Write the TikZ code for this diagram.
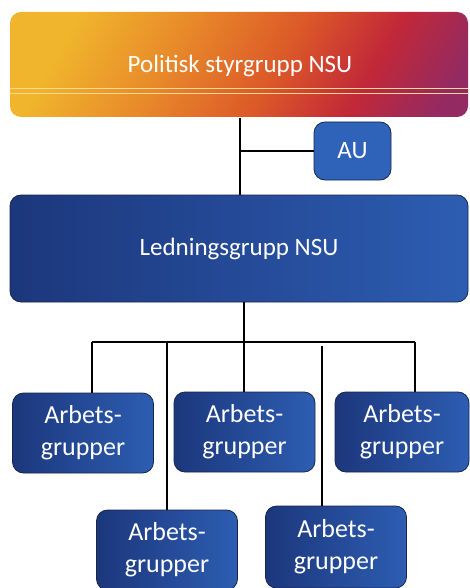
\documentclass[tikz,border=0pt]{standalone}
\usepackage{fontspec}
\setmainfont{Carlito}
\usepackage{tikz}
\usetikzlibrary{calc}
\definecolor{warmA}{HTML}{F0B52C}
\definecolor{warmB}{HTML}{E88A2A}
\definecolor{warmC}{HTML}{DC5A28}
\definecolor{warmD}{HTML}{C22838}
\definecolor{warmE}{HTML}{932A62}
\definecolor{blueA}{HTML}{1C377C}
\definecolor{blueB}{HTML}{2D5DB2}
\definecolor{auBlue}{HTML}{2F63BA}
\definecolor{edgeDark}{HTML}{1A2648}
\pgfdeclarehorizontalshading{warm}{100bp}{color(0bp)=(warmA); color(25bp)=(warmA); color(40bp)=(warmB); color(55bp)=(warmC); color(68bp)=(warmD); color(80bp)=(warmE); color(100bp)=(warmE)}
\tikzset{
  board/.style={rounded corners=11pt, inner sep=0pt, text=white,
      font=\fontsize{25}{30}\selectfont},
  group/.style={board, draw=edgeDark, line width=0.8pt, left color=blueA, right color=blueB,
      minimum width=141pt, minimum height=80pt, align=center,
      font=\fontsize{26}{32}\selectfont}
}

\begin{document}
\begin{tikzpicture}[x=1pt,y=-1pt,line width=1.6pt]
      \useasboundingbox (0,0) rectangle (470,588);

      \node[board, shading=warm, shading angle=-30, minimum width=458pt, minimum height=105pt] at (239,64.5)(top){};
      \draw[warmA!50!white, line width=0.6pt] (10,88) -- (468,88) (10,93) -- (468,93);
      \node[text=white, font=\fontsize{25}{30}\selectfont] at (240,66)(toptext){Politisk styrgrupp NSU};

      \node[board, draw=edgeDark, line width=0.8pt, fill=auBlue, minimum width=77pt, minimum height=58pt] at (352.5,151)(au){AU};

      \node[board, draw=edgeDark, line width=0.8pt, left color=blueA, right color=blueB, minimum width=458pt, minimum height=107pt] at (239,248.5)(led){Ledningsgrupp NSU};

      \node[group] at (83,433)(g1){Arbets-\\grupper};
      \node[group] at (244.5,432)(g2){Arbets-\\grupper};
      \node[group, minimum width=134pt] at (402,432)(g3){Arbets-\\grupper};
      \node[group] at (167,550)(g4){Arbets-\\grupper};
      \node[group, minimum height=82pt] at (336,547)(g5){Arbets-\\grupper};

      \coordinate (bus) at (244,342);
      \coordinate (b1) at (92,342);
      \coordinate (b3) at (415,342);
      \coordinate (b4) at (167,342);
      \coordinate (b5) at (322,346);

      \draw (top.south -| 240,0) -- (led.north -| 240,0);
      \draw (au.west) -- (au.west -| 240,0);
      \draw (led.south -| bus) -- (bus) -- (g2.north -| bus);
      \draw (b1) -- (b3);
      \draw (b1) -- (g1.north -| b1);
      \draw (b3) -- (g3.north -| b3);
      \draw (b4) -- (g4.north -| b4);
      \draw (b5) -- (g5.north -| b5);

    \end{tikzpicture}
\end{document}
